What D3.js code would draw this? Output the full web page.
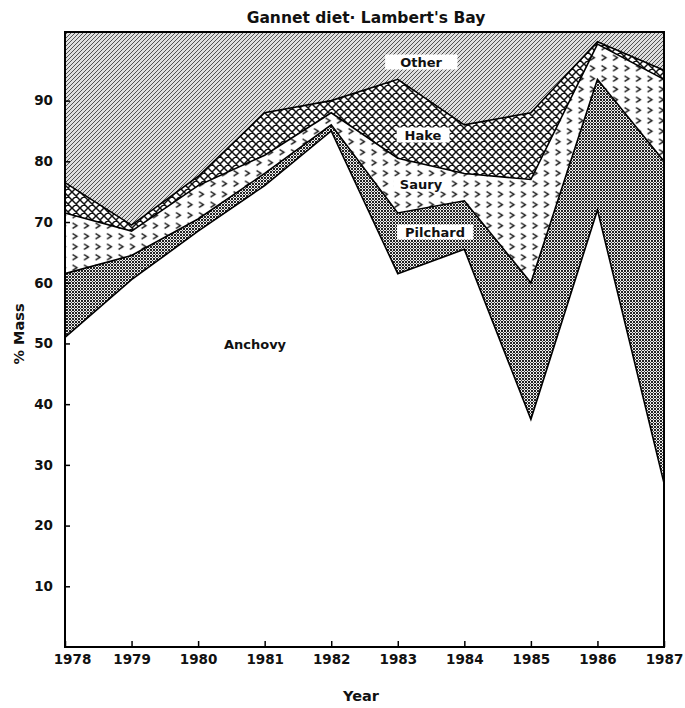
<!DOCTYPE html>
<html>
<head>
<meta charset="utf-8">
<script src="https://cdn.jsdelivr.net/npm/d3@7"></script>
<style>
  html, body { margin: 0; padding: 0; background: #fff; }
  svg text { font-family: "DejaVu Sans", Lato, sans-serif; font-weight: 700; fill: #111; }
</style>
</head>
<body>
<svg id="chart" width="685" height="708"></svg>
<script>
// Diet composition of gannets at Lambert's Bay, % of mass per prey group
const years    = [1978, 1979, 1980, 1981, 1982, 1983, 1984, 1985, 1986, 1987];
const anchovy  = [51, 60.5, 68.5, 76, 85, 61.5, 65.5, 37.5, 72, 27];
const pilchard = [10.5, 4, 2, 2, 1, 10, 8, 22.5, 21.5, 53];
const saury    = [10, 4, 5.5, 3, 2, 9, 4.5, 17, 5.8, 13.5];
const hake     = [5, 1, 1.5, 7, 2, 13, 8, 11, 0.4, 1.5];
const other    = [23.5, 30.5, 22.5, 12, 10, 6.5, 14, 12, 0.3, 5];
const yTicks   = [10, 20, 30, 40, 50, 60, 70, 80, 90];
const preyKeys = ["anchovy", "pilchard", "saury", "hake", "other"];
const preyNames = ["Anchovy", "Pilchard", "Saury", "Hake", "Other"];

const rows = years.map((yr, i) => ({
  year: yr, anchovy: anchovy[i], pilchard: pilchard[i],
  saury: saury[i], hake: hake[i], other: other[i]
}));

const svg = d3.select("#chart");
const plotL = 65, plotR = 664, plotT = 32, plotB = 647;
const yMax = 101.3;

const x = d3.scaleLinear().domain([1978, 1987]).range([plotL, plotR]);
const y = d3.scaleLinear().domain([0, yMax]).range([plotB, plotT]);

// fill patterns for each prey group
const defs = svg.append("defs");

const pOther = defs.append("pattern").attr("id", "p-other")
  .attr("patternUnits", "userSpaceOnUse").attr("width", 4).attr("height", 4);
pOther.append("rect").attr("width", 4).attr("height", 4).attr("fill", "#dedede");
pOther.append("path").attr("d", "M-1,1 L1,-1 M0,4 L4,0 M3,5 L5,3")
  .attr("stroke", "#4a4a4a").attr("stroke-width", 0.95);

const pHake = defs.append("pattern").attr("id", "p-hake")
  .attr("patternUnits", "userSpaceOnUse").attr("width", 8).attr("height", 8);
pHake.append("rect").attr("width", 8).attr("height", 8).attr("fill", "#fff");
pHake.append("path").attr("d", "M0,0 L8,8 M8,0 L0,8 M-1,7 L1,9 M7,-1 L9,1 M-1,1 L1,-1 M7,9 L9,7")
  .attr("stroke", "#111").attr("stroke-width", 1.5);

const pSaury = defs.append("pattern").attr("id", "p-saury")
  .attr("patternUnits", "userSpaceOnUse").attr("width", 11.5).attr("height", 10.5);
pSaury.append("rect").attr("width", 11.5).attr("height", 10.5).attr("fill", "#fff");
pSaury.append("path").attr("d", "M3.5,2.5 L8,5.2 L3.5,8")
  .attr("stroke", "#111").attr("stroke-width", 1.3).attr("fill", "none");

const pPil = defs.append("pattern").attr("id", "p-pilchard")
  .attr("patternUnits", "userSpaceOnUse").attr("width", 3).attr("height", 3);
pPil.append("rect").attr("width", 3).attr("height", 3).attr("fill", "#eeeeee");
pPil.append("rect").attr("width", 2).attr("height", 2).attr("fill", "#222");
pPil.append("rect").attr("x", 2).attr("y", 2).attr("width", 1).attr("height", 1).attr("fill", "#444");

const fills = {
  anchovy: "#fff", pilchard: "url(#p-pilchard)", saury: "url(#p-saury)",
  hake: "url(#p-hake)", other: "url(#p-other)"
};

const series = d3.stack().keys(preyKeys)(rows);

// the topmost group runs up to the frame edge
const area = d3.area()
  .x(d => x(d.data.year))
  .y0(d => y(d[0]))
  .y1(d => y(d[1] >= 99.999 ? yMax : d[1]));

const g = svg.append("g");
g.selectAll("path.layer").data(series).join("path")
  .attr("class", "layer")
  .attr("fill", s => fills[s.key])
  .attr("d", s => area(s));

// boundary lines between groups
const edge = d3.line().x(d => x(d.data.year)).y(d => y(d[1]));
g.selectAll("path.edge").data(series.slice(0, 4)).join("path")
  .attr("class", "edge")
  .attr("fill", "none").attr("stroke", "#000").attr("stroke-width", 1.6)
  .attr("d", s => edge(s));

// frame
svg.append("rect")
  .attr("x", plotL).attr("y", plotT)
  .attr("width", plotR - plotL).attr("height", plotB - plotT)
  .attr("fill", "none").attr("stroke", "#000").attr("stroke-width", 2);

// axes with inward ticks
const yAxis = d3.axisLeft(y).tickValues(yTicks).tickSize(-5).tickPadding(12);
const xAxis = d3.axisBottom(x).tickValues(years).tickFormat(d3.format("d")).tickSize(-6).tickPadding(7);

const ya = svg.append("g").attr("transform", `translate(${plotL},0)`).call(yAxis);
const xa = svg.append("g").attr("transform", `translate(0,${plotB})`).call(xAxis);
[ya, xa].forEach(a => {
  a.select(".domain").remove();
  a.selectAll(".tick line").attr("stroke", "#000").attr("stroke-width", 1.5);
  a.selectAll(".tick text").style("font-size", "13.5px").attr("fill", "#111");
});
xa.selectAll(".tick text").filter(d => d === 1978).attr("dx", 7);

// group labels on white boxes
const labelData = [
  { name: preyNames[4], cx: 421, cy: 62, pad: 15, box: true },
  { name: preyNames[3], cx: 423, cy: 135, pad: 8, box: true },
  { name: preyNames[2], cx: 421, cy: 184, pad: 6, box: true },
  { name: preyNames[1], cx: 435, cy: 232, pad: 8, box: true },
  { name: preyNames[0], cx: 255, cy: 344, pad: 0, box: false }
];
labelData.forEach(l => {
  const t = svg.append("text")
    .attr("x", l.cx).attr("y", l.cy)
    .attr("text-anchor", "middle").attr("dominant-baseline", "central")
    .style("font-size", "13px").text(l.name);
  if (l.box) {
    const b = t.node().getBBox();
    svg.insert("rect", () => t.node())
      .attr("x", b.x - l.pad).attr("y", b.y)
      .attr("width", b.width + 2 * l.pad).attr("height", b.height)
      .attr("fill", "#fff");
  }
});

// titles
svg.append("text").attr("x", 366).attr("y", 23)
  .attr("text-anchor", "middle").style("font-size", "15.5px")
  .text("Gannet diet\u00b7 Lambert's Bay");

svg.append("text").attr("x", 361).attr("y", 701)
  .attr("text-anchor", "middle").style("font-size", "14.5px").text("Year");

svg.append("text")
  .attr("transform", "translate(24,334) rotate(-90)")
  .attr("text-anchor", "middle").style("font-size", "14.5px").text("% Mass");
</script>
</body>
</html>
